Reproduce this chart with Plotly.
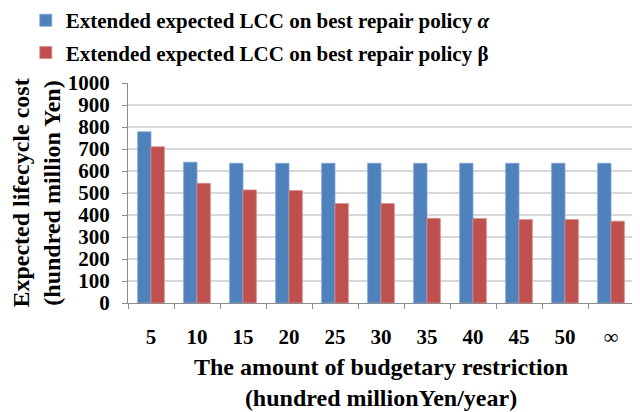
import plotly.graph_objects as go

categories = ["5", "10", "15", "20", "25", "30", "35", "40", "45", "50", "∞"]
alpha_values = [778, 640, 635, 635, 635, 635, 635, 635, 635, 635, 635]
beta_values = [710, 544, 514, 511, 452, 452, 385, 384, 379, 379, 372]
y_ticks = [0, 100, 200, 300, 400, 500, 600, 700, 800, 900, 1000]

FONT = "Liberation Serif"

fig = go.Figure()
fig.add_trace(go.Bar(
    x=categories, y=alpha_values,
    name="<b>Extended expected LCC on best repair policy <i>α</i></b>",
    legendgroup="a",
    marker=dict(color="#4F81BD", line=dict(color="#7FA3D4", width=0.8)),
))
fig.add_trace(go.Bar(
    x=categories, y=beta_values,
    name="<b>Extended expected LCC on best repair policy β</b>",
    legendgroup="b",
    marker=dict(color="#C0504D", line=dict(color="#D98A88", width=0.8)),
))

# page body has an 8px margin, so the figure is sized to fit inside 640x412
fig.update_layout(
    width=632, height=404,
    margin=dict(l=120, r=6, t=75, b=109, autoexpand=False),
    paper_bgcolor="white", plot_bgcolor="white",
    barmode="group", bargap=0.42, bargroupgap=0,
    font=dict(family=FONT, color="black"),
    legend=dict(
        x=-0.202, xanchor="left", y=1.045, yanchor="bottom",
        font=dict(family=FONT, size=21, color="black"),
        traceorder="grouped", tracegroupgap=2, itemwidth=30,
        bgcolor="rgba(0,0,0,0)",
    ),
    showlegend=True,
)

x_ticktext = [c if c == "∞" else "<b>" + c + "</b>" for c in categories]

fig.update_xaxes(
    type="category",
    tickvals=categories, ticktext=x_ticktext,
    showline=True, linecolor="#8C8C8C", linewidth=1,
    ticks="outside", tickson="boundaries", ticklen=5, tickcolor="#8C8C8C",
    tickfont=dict(family=FONT, size=21, color="black"),
    ticklabelstandoff=15,
    title=dict(text="<b>The amount of budgetary restriction<br>(hundred millionYen/year)</b>",
               font=dict(family=FONT, size=24, color="black"), standoff=9),
    showgrid=False,
)
fig.update_yaxes(
    range=[0, 1000], tickvals=y_ticks,
    ticktext=["<b>%d</b>" % v for v in y_ticks],
    showline=True, linecolor="#8C8C8C", linewidth=1,
    ticks="outside", ticklen=5, tickcolor="#8C8C8C",
    showgrid=True, gridcolor="#D9D9D9", gridwidth=1.5,
    tickfont=dict(family=FONT, size=21, color="black"),
    ticklabelstandoff=8,
    title=dict(text="<b>Expected lifecycle cost<br>(hundred million Yen)</b>",
               font=dict(family=FONT, size=24, color="black"), standoff=6),
    zeroline=False,
)

fig.write_html("out.html")
